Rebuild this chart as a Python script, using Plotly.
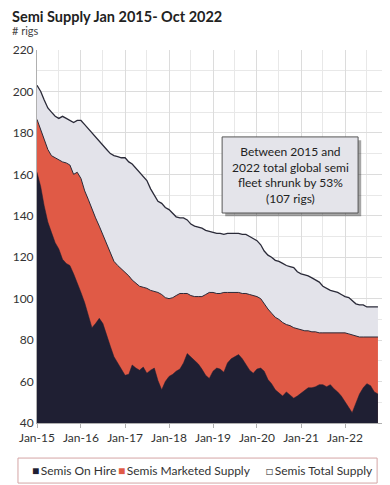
import pandas as pd
import plotly.graph_objects as go

months = pd.date_range("2015-01-01", periods=94, freq="MS")

total_supply = [
    203, 200, 196, 192, 190, 188, 187, 188, 187, 186, 185, 186,
    186, 184, 182, 180, 178, 176, 174, 172, 170, 169, 168.5, 168,
    168, 166, 165, 163, 161, 159, 157, 153, 150, 147, 146, 144,
    143, 141, 139.5, 139, 139, 138, 136, 135, 134.5, 134, 133, 132.5,
    132, 131.5, 131.5, 131, 131.5, 131.5, 131.5, 131.5, 131, 131, 130, 129,
    128, 126, 123, 121, 120, 118.5, 118, 117, 116, 115.5, 115, 113,
    112, 111.5, 111, 110, 109, 108, 106, 105, 104, 103.5, 103, 102,
    101, 100.5, 99, 97.5, 97, 97, 96, 96, 96, 96,
]

marketed_supply = [
    186.5, 182, 177, 172, 169, 168, 167, 166, 165.5, 164.5, 160, 161,
    158, 152, 148, 143, 139, 135, 131, 127, 122, 118, 116, 114.5,
    113, 111, 109, 107.5, 106, 105.5, 105, 104, 103.5, 103, 102, 100.5,
    100, 100.5, 101.5, 102.5, 102.5, 102.5, 101.5, 101, 101, 101, 102, 103,
    103, 102.5, 102.5, 103, 103, 103, 103, 103, 102.5, 102.5, 102, 101.5,
    101, 100, 97.5, 95, 93, 91, 90, 88.5, 87.5, 87, 86, 85.5,
    85, 84.5, 84.5, 84, 84, 83.5, 83.5, 83.5, 83.5, 83.5, 83.5, 83.5,
    83.5, 83, 82.5, 82, 81.5, 81.5, 81.5, 81.5, 81.5, 81.5,
]

on_hire = [
    161, 154, 145, 137, 132, 127, 124, 119, 117, 116, 112, 108,
    103, 98, 92, 86, 88, 90.5, 88, 82, 77, 72, 69, 66,
    63, 63.5, 68, 66.5, 65.5, 67, 64, 65.5, 66.5, 60.5, 56, 60,
    62.5, 63.5, 65, 66, 69, 73.5, 72, 70, 68.5, 66, 63, 61.5,
    65, 66.5, 66, 64.5, 69, 71, 72, 73, 71, 68, 65.5, 64,
    66, 66.5, 65, 61, 59, 56, 54.5, 53, 55, 53.5, 52, 53,
    54.5, 56, 57, 57, 57.5, 58.5, 58.5, 57.5, 58.5, 56.5, 55, 53,
    50, 47.5, 45, 50, 54, 57, 59, 58, 55, 54,
]

series_names = ["Semis On Hire", "Semis Marketed Supply", "Semis Total Supply"]
tick_years = pd.date_range("2015-01-01", "2022-01-01", freq="YS")
tick_labels = ["Jan-15", "Jan-16", "Jan-17", "Jan-18", "Jan-19", "Jan-20", "Jan-21", "Jan-22"]

C_DARK = "#1f1f33"
C_RED = "#e05a46"
C_GRAY = "#e3e3ea"
C_LINE = "#2a2a38"
FONT = "Lato"

fig = go.Figure()

fig.add_trace(go.Scatter(
    x=months, y=total_supply, name=series_names[2], mode="lines",
    line=dict(color=C_LINE, width=1.3), fill="tozeroy", fillcolor=C_GRAY,
))
fig.add_trace(go.Scatter(
    x=months, y=marketed_supply, name=series_names[1], mode="lines",
    line=dict(color=C_LINE, width=1), fill="tozeroy", fillcolor=C_RED,
))
fig.add_trace(go.Scatter(
    x=months, y=on_hire, name=series_names[0], mode="lines",
    line=dict(color=C_DARK, width=0.5), fill="tozeroy", fillcolor=C_DARK,
))

# annotation box (shadow + box)
bx0, bx1, by0, by1 = 0.535, 0.928, 0.563, 0.767
fig.add_shape(type="rect", xref="paper", yref="paper",
              x0=bx0 + 0.009, x1=bx1 + 0.009, y0=by0 - 0.009, y1=by1 - 0.009,
              fillcolor="rgba(0,0,0,0.35)", line=dict(width=0), layer="above")
fig.add_shape(type="rect", xref="paper", yref="paper",
              x0=bx0, x1=bx1, y0=by0, y1=by1,
              fillcolor="#e4e4ea", line=dict(color="#555555", width=1), layer="above")
fig.add_annotation(
    xref="paper", yref="paper", x=(bx0 + bx1) / 2, y=(by0 + by1) / 2,
    text="Between 2015 and<br>2022 total global semi<br>fleet shrunk by 53%<br>(107 rigs)",
    showarrow=False, font=dict(family=FONT, size=12, color="#222222"),
    align="center", xanchor="center", yanchor="middle",
)

# title & subtitle
fig.add_annotation(
    xref="paper", yref="paper", x=-0.078, y=1.089, xanchor="left", yanchor="middle",
    text="<b>Semi Supply Jan 2015- Oct 2022</b>", showarrow=False,
    font=dict(family=FONT, size=14.5, color="#222222"),
)
fig.add_annotation(
    xref="paper", yref="paper", x=-0.078, y=1.052, xanchor="left", yanchor="middle",
    text="# rigs", showarrow=False,
    font=dict(family=FONT, size=11, color="#444444"),
)

# legend (box + entries)
fig.add_shape(type="rect", xref="paper", yref="paper",
              x0=-0.055, x1=0.983, y0=-0.161, y1=-0.094,
              fillcolor="white", line=dict(color="#d4a5a5", width=1))
legend_items = [
    (series_names[0], f"<span style='color:{C_DARK}'>■</span>", -0.020),
    (series_names[1], f"<span style='color:{C_RED}'>■</span>", 0.228),
    (series_names[2], "<span style='color:#666666'>□</span>", 0.656),
]
for name, sym, xpos in legend_items:
    fig.add_annotation(
        xref="paper", yref="paper", x=xpos, y=-0.1275, xanchor="left", yanchor="middle",
        text=f"{sym}\u2009{name}", showarrow=False,
        font=dict(family=FONT, size=12, color="#333333"),
    )

# the page body adds an 8px margin, so the figure is sized/offset to fit the 390x485 window
fig.update_layout(
    width=382, height=477,
    margin=dict(l=29, r=7, t=42, b=62, autoexpand=False),
    paper_bgcolor="white", plot_bgcolor="white",
    font=dict(family=FONT, size=12, color="#333333"),
    showlegend=False,
)

fig.update_xaxes(
    range=["2015-01-01", "2022-11-12"],
    tickvals=tick_years, ticktext=tick_labels,
    showgrid=True, gridcolor="#dcdcdc", gridwidth=1,
    minor=dict(dtick="M6", tick0="2015-01-01", showgrid=True, gridcolor="#e8e8e8"),
    showline=True, linecolor="#b0b0b0", linewidth=1,
    ticks="outside", ticklen=4, tickcolor="#b0b0b0",
    tickfont=dict(family=FONT, size=12, color="#333333"),
    zeroline=False, automargin=False,
)
fig.update_yaxes(
    range=[40, 220], dtick=20, tick0=40,
    showgrid=True, gridcolor="#dcdcdc", gridwidth=1,
    minor=dict(dtick=10, showgrid=True, gridcolor="#e8e8e8"),
    showline=True, linecolor="#b0b0b0", linewidth=1,
    tickfont=dict(family=FONT, size=12, color="#333333"),
    zeroline=False, automargin=False,
)

fig.write_html("out.html")
